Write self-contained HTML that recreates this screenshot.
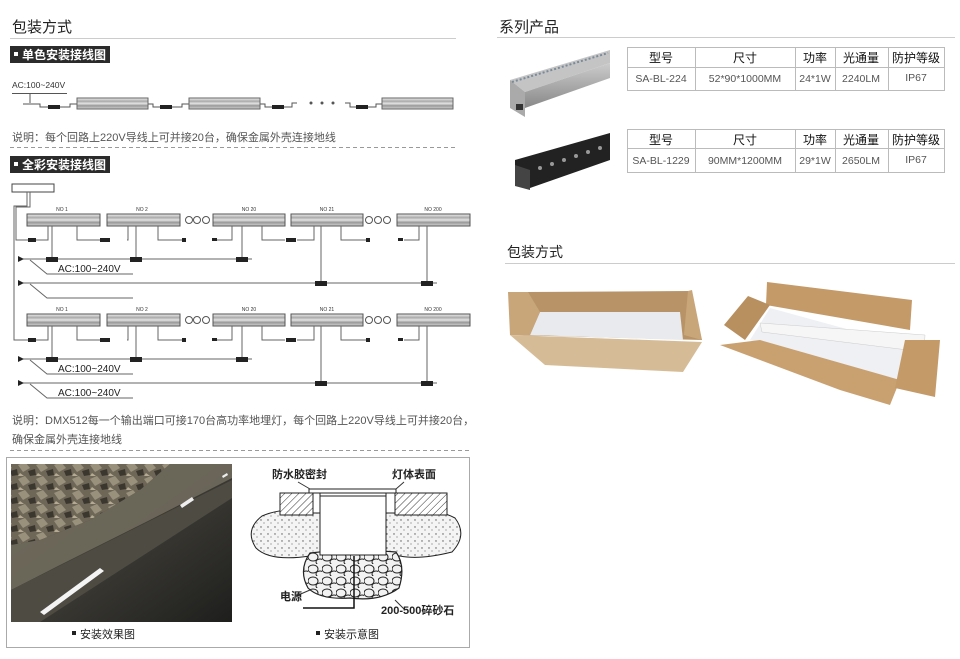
<!DOCTYPE html>
<html><head><meta charset="utf-8"><style>
html,body{margin:0;padding:0;background:#fff;width:960px;height:659px;overflow:hidden}
svg{position:absolute;left:0;top:0}
text{font-family:"Liberation Sans","Noto Sans CJK SC",sans-serif}
</style></head><body>
<svg width="960" height="659" viewBox="0 0 960 659" xmlns="http://www.w3.org/2000/svg">
<defs>
<linearGradient id="lamp" x1="0" y1="0" x2="0" y2="1">
<stop offset="0" stop-color="#f2f2f2"/><stop offset=".3" stop-color="#aaa"/><stop offset=".5" stop-color="#e4e4e4"/><stop offset=".7" stop-color="#999"/><stop offset="1" stop-color="#d4d4d4"/></linearGradient>
<pattern id="hatch" width="5" height="5" patternUnits="userSpaceOnUse" patternTransform="rotate(45)"><rect width="5" height="5" fill="#fff"/><line x1="0" y1="0" x2="0" y2="5" stroke="#333" stroke-width="1"/></pattern>
<pattern id="dots" width="7" height="7" patternUnits="userSpaceOnUse"><rect width="7" height="7" fill="#f4f4f4"/><circle cx="2" cy="2" r=".7" fill="#555"/><circle cx="5" cy="5" r=".6" fill="#777"/></pattern>
<pattern id="stones" width="14" height="12" patternUnits="userSpaceOnUse"><rect width="14" height="12" fill="#f2f2f2"/><ellipse cx="5" cy="5" rx="5" ry="4" fill="none" stroke="#222" stroke-width="1"/><ellipse cx="12" cy="10" rx="4" ry="3" fill="none" stroke="#222" stroke-width="1"/></pattern>
<pattern id="rock" width="18" height="14" patternUnits="userSpaceOnUse"><rect width="18" height="14" fill="#6e6758"/><path d="M0 3 L7 0 L12 6 L5 10Z" fill="#9a917c"/><path d="M10 9 L17 7 L18 13 L12 14Z" fill="#3b372f"/><path d="M2 11 L6 14 L0 14Z" fill="#b5ab94"/></pattern>
<linearGradient id="photo" x1="0" y1="0" x2="1" y2="1"><stop offset="0" stop-color="#5a5448"/><stop offset=".5" stop-color="#3c3a34"/><stop offset="1" stop-color="#1e1f1d"/></linearGradient>
<linearGradient id="alu" x1="0" y1="0" x2="0" y2="1"><stop offset="0" stop-color="#ccc"/><stop offset="1" stop-color="#888"/></linearGradient>
</defs>

<text x="12" y="32" font-size="15" fill="#222">包装方式</text>
<line x1="10" y1="38.5" x2="456" y2="38.5" stroke="#ccc"/>
<rect x="10" y="46" width="100" height="17" fill="#2b2b2b"/>
<rect x="14" y="52" width="4" height="4" fill="#fff"/>
<text x="22" y="59" font-size="12" font-weight="bold" fill="#fff">单色安装接线图</text>

<text x="12" y="88" font-size="8.5" fill="#333">AC:100~240V</text>
<line x1="12" y1="93.5" x2="67" y2="93.5" stroke="#555"/>
<line x1="30" y1="94" x2="30" y2="103" stroke="#555"/>
<g stroke="#555" fill="none">
<path d="M23 104 H40 V107 H48"/><path d="M60 107 H70 V104 H77"/>
<path d="M148 104 H153 V107 H160"/><path d="M172 107 H182 V104 H189"/>
<path d="M260 104 H265 V107 H272"/><path d="M284 107 H292 V103 H297"/>
<path d="M345 103 H350 V107 H356"/><path d="M368 107 H376 V104 H382"/>
</g>
<g fill="#222"><rect x="48" y="105" width="12" height="4"/><rect x="160" y="105" width="12" height="4"/><rect x="272" y="105" width="12" height="4"/><rect x="356" y="105" width="12" height="4"/></g>
<g stroke="#666" fill="url(#lamp)"><rect x="77" y="98" width="71" height="11"/><rect x="189" y="98" width="71" height="11"/><rect x="382" y="98" width="71" height="11"/></g>
<g fill="#555"><circle cx="311" cy="103" r="1.5"/><circle cx="322" cy="103" r="1.5"/><circle cx="333" cy="103" r="1.5"/></g>

<text x="12" y="141" font-size="11" fill="#555">说明：每个回路上220V导线上可并接20台，确保金属外壳连接地线</text>
<line x1="10" y1="147.5" x2="456" y2="147.5" stroke="#999" stroke-dasharray="4,3"/>
<rect x="10" y="156" width="100" height="17" fill="#2b2b2b"/>
<rect x="14" y="162" width="4" height="4" fill="#fff"/>
<text x="22" y="169" font-size="12" font-weight="bold" fill="#fff">全彩安装接线图</text>

<rect x="12" y="184" width="42" height="8" fill="#fff" stroke="#444"/>
<g stroke="#666" fill="none">
<path d="M27 192 V206 H14 V340 H24"/><path d="M30 192 V207 H16 V240 H24"/>
</g>

<g id="row">
<g font-size="5" fill="#333" text-anchor="middle"><text x="62" y="211">NO 1</text><text x="142" y="211">NO 2</text><text x="249" y="211">NO 20</text><text x="327" y="211">NO 21</text><text x="433" y="211">NO 200</text></g>
<g stroke="#555" fill="url(#lamp)"><rect x="27" y="214" width="73" height="12"/><rect x="107" y="214" width="73" height="12"/><rect x="213" y="214" width="72" height="12"/><rect x="291" y="214" width="72" height="12"/><rect x="397" y="214" width="73" height="12"/></g>
<g stroke="#555" fill="none"><circle cx="189" cy="220" r="3.5"/><circle cx="197" cy="220" r="3.5"/><circle cx="206" cy="220" r="3.5"/><circle cx="369" cy="220" r="3.5"/><circle cx="378" cy="220" r="3.5"/><circle cx="387" cy="220" r="3.5"/></g>
<g stroke="#666" fill="none">
<path d="M24 240 H48 V226"/><path d="M52 226 V259"/><path d="M77 226 V240 H100"/>
<path d="M127 240 H128 V226"/><path d="M136 226 V259"/><path d="M158 226 V240 H183"/>
<path d="M232 226 V240 H215"/><path d="M242 226 V259"/><path d="M262 226 V240 H285"/>
<path d="M297 240 H314 V226"/><path d="M321 226 V283"/><path d="M341 226 V240 H366"/>
<path d="M419 226 V240 H404"/><path d="M427 226 V283"/>
<line x1="20" y1="259" x2="252" y2="259"/><line x1="20" y1="283" x2="437" y2="283"/>
<path d="M30 260 L47 274 H133"/><path d="M30 284 L47 298 H133"/>
</g>
<g fill="#222"><rect x="28" y="238" width="8" height="4"/><rect x="100" y="238" width="10" height="4"/><rect x="182" y="238" width="4" height="4"/><rect x="212" y="238" width="5" height="3"/><rect x="286" y="238" width="10" height="4"/><rect x="366" y="238" width="4" height="4"/><rect x="398" y="238" width="5" height="3"/>
<rect x="46" y="257" width="12" height="5"/><rect x="130" y="257" width="12" height="5"/><rect x="236" y="257" width="12" height="5"/><rect x="315" y="281" width="12" height="5"/><rect x="421" y="281" width="12" height="5"/>
<path d="M18 256 L24 259 L18 262Z"/><path d="M18 280 L24 283 L18 286Z"/></g>
</g>
<text x="58" y="272" font-size="10" fill="#222">AC:100~240V</text>
<use href="#row" y="100"/>
<text x="58" y="372" font-size="10" fill="#222">AC:100~240V</text>
<text x="58" y="396" font-size="10" fill="#222">AC:100~240V</text>

<text x="12" y="424" font-size="11" fill="#555">说明：DMX512每一个输出端口可接170台高功率地埋灯，每个回路上220V导线上可并接20台，</text>
<text x="12" y="443" font-size="11" fill="#555">确保金属外壳连接地线</text>
<line x1="10" y1="450.5" x2="470" y2="450.5" stroke="#999" stroke-dasharray="4,3"/>

<rect x="6.5" y="457.5" width="463" height="190" fill="#fff" stroke="#aaa"/>
<rect x="11" y="464" width="221" height="158" fill="url(#photo)"/>
<path d="M11 464 H170 L140 490 L90 520 L40 540 L11 545Z" fill="url(#rock)"/>
<path d="M11 545 L40 540 L90 520 L140 490 L170 464 H232 V478 L150 520 L60 565 L11 590Z" fill="#6f6a5c" opacity=".9"/>
<path d="M11 590 L232 480 V498 L40 622 H11Z" fill="#4e4b43"/>
<path d="M40 612 L100 568 L104 571 L44 615Z" fill="#f4f4f4"/>
<path d="M180 505 L192 497 L194 500 L182 508Z" fill="#eee"/>
<path d="M222 476 L227 473 L228 475 L223 478Z" fill="#eee"/>
<rect x="72" y="631" width="4" height="4" fill="#222"/>
<text x="80" y="638" font-size="11" fill="#222">安装效果图</text>
<rect x="316" y="631" width="4" height="4" fill="#222"/>
<text x="324" y="638" font-size="11" fill="#222">安装示意图</text>

<path d="M262 516 Q285 506 320 512 L386 512 Q430 505 455 518 Q468 535 452 552 Q420 560 400 556 L310 556 Q270 562 256 548 Q244 530 262 516Z" fill="url(#dots)" stroke="#222"/>
<path d="M310 553 Q350 548 396 552 Q406 566 399 588 Q380 602 350 598 Q320 600 308 588 Q298 570 310 553Z" fill="url(#stones)" stroke="#222" stroke-width="1.2"/>
<rect x="280" y="493" width="33" height="22" fill="url(#hatch)" stroke="#222"/>
<rect x="395" y="493" width="52" height="22" fill="url(#hatch)" stroke="#222"/>
<rect x="320" y="496" width="66" height="59" fill="#fff" stroke="#222"/>
<rect x="309" y="489" width="87" height="4" fill="#fff" stroke="#222"/>
<rect x="313" y="493" width="7" height="20" fill="#fff" stroke="#222"/><rect x="386" y="493" width="9" height="20" fill="#fff" stroke="#222"/>
<path d="M354 556 V608 H303" fill="none" stroke="#111" stroke-width="1.5"/>
<path d="M298 482 L310 489 M404 482 L396 489 M296 596 L310 590 M395 600 L405 610" stroke="#333" fill="none"/>
<g font-size="11" font-weight="bold" fill="#222"><text x="272" y="478">防水胶密封</text><text x="392" y="478">灯体表面</text><text x="280" y="600">电源</text><text x="381" y="614">200-500碎砂石</text></g>

<text x="499" y="32" font-size="15" fill="#222">系列产品</text>
<line x1="497" y1="37.5" x2="955" y2="37.5" stroke="#ccc"/>
<path d="M510 80 L610 50 V63 L525 92 Z" fill="#c4c4c4"/>
<path d="M510 80 L525 92 V117 L510 108Z" fill="#aaa"/>
<path d="M525 92 L610 63 V78 L525 108Z" fill="url(#alu)"/>
<path d="M512 82 L608 53" stroke="#7a8a99" stroke-width="2" stroke-dasharray="2,2"/>
<rect x="516" y="104" width="7" height="6" fill="#333"/>
<path d="M515 160 L610 133 V160 L530 188 L515 184Z" fill="#222"/>
<path d="M515 165 L530 170 V190 L515 186Z" fill="#444"/>
<g fill="#999"><circle cx="540" cy="168" r="2"/><circle cx="552" cy="164" r="2"/><circle cx="564" cy="160" r="2"/><circle cx="576" cy="156" r="2"/><circle cx="588" cy="152" r="2"/><circle cx="600" cy="148" r="2"/></g>

<g font-size="10.5" text-anchor="middle">
<g>
<rect x="627.5" y="47.5" width="317" height="43" fill="#fff" stroke="#bbb"/>
<line x1="627" y1="67.5" x2="944" y2="67.5" stroke="#bbb"/>
<g stroke="#bbb"><line x1="695.5" y1="47" x2="695.5" y2="90"/><line x1="795.5" y1="47" x2="795.5" y2="90"/><line x1="835.5" y1="47" x2="835.5" y2="90"/><line x1="888.5" y1="47" x2="888.5" y2="90"/></g>
<g font-size="12" fill="#111"><text x="661" y="62">型号</text><text x="745" y="62">尺寸</text><text x="815" y="62">功率</text><text x="861" y="62">光通量</text><text x="916" y="62">防护等级</text></g>
<g fill="#555"><text x="661" y="82">SA-BL-224</text><text x="745" y="82">52*90*1000MM</text><text x="815" y="82">24*1W</text><text x="861" y="82">2240LM</text><text x="916" y="81">IP67</text></g>
</g>
<g>
<rect x="627.5" y="129.5" width="317" height="43" fill="#fff" stroke="#bbb"/>
<line x1="627" y1="148.5" x2="944" y2="148.5" stroke="#bbb"/>
<g stroke="#bbb"><line x1="695.5" y1="129" x2="695.5" y2="172"/><line x1="795.5" y1="129" x2="795.5" y2="172"/><line x1="835.5" y1="129" x2="835.5" y2="172"/><line x1="888.5" y1="129" x2="888.5" y2="172"/></g>
<g font-size="12" fill="#111"><text x="661" y="144">型号</text><text x="745" y="144">尺寸</text><text x="815" y="144">功率</text><text x="861" y="144">光通量</text><text x="916" y="144">防护等级</text></g>
<g fill="#555"><text x="661" y="164">SA-BL-1229</text><text x="745" y="164">90MM*1200MM</text><text x="815" y="164">29*1W</text><text x="861" y="164">2650LM</text><text x="916" y="163">IP67</text></g>
</g>
</g>

<text x="507" y="257" font-size="14" fill="#222">包装方式</text>
<line x1="505" y1="263.5" x2="955" y2="263.5" stroke="#ccc"/>

<!-- box 1 -->
<path d="M528 292 L688 291 L702 340 L510 335Z" fill="#b89367"/>
<path d="M540 312 L680 312 L683 340 L530 335Z" fill="#e8eaee"/>
<path d="M510 335 L702 342 L683 372 L545 365Z" fill="#d6bc96"/>
<path d="M508 292 L528 292 L540 312 L530 335 L510 335Z" fill="#c9a679"/>
<path d="M688 291 L692 290 L702 340 L684 335Z" fill="#c9a679"/>
<!-- box 2 -->
<path d="M767 282 L912 300 L910 330 L766 305Z" fill="#c49a68"/>
<path d="M724 325 L748 296 L770 305 L745 340Z" fill="#b88f5f"/>
<path d="M770 308 L905 345 L900 380 L750 340Z" fill="#eef0f3"/>
<path d="M760 323 L925 335 L924 352 L762 332Z" fill="#f6f6f6" stroke="#ccc" stroke-width=".5"/>
<path d="M720 345 L760 340 L900 380 L890 405 L840 390Z" fill="#c9a171"/>
<path d="M905 340 L940 340 L935 397 L895 388Z" fill="#c49a68"/>
</svg>
</body></html>
